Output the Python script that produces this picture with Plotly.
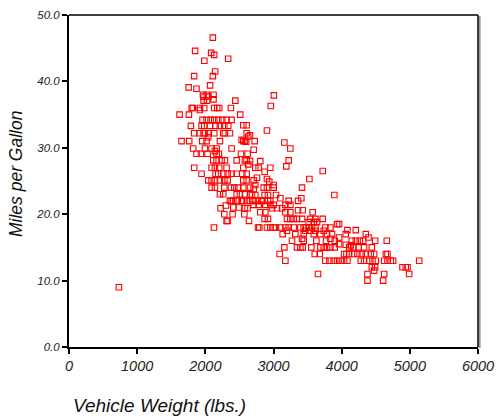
import plotly.graph_objects as go

# Miles per gallon levels and the vehicle weights (lbs.) of the cars at each level
mpg_levels = [46.6, 44.6, 44.3, 44.0, 43.4, 43.1, 41.5, 40.8, 39.4, 39.1, 38.9, 38.0, 37.9, 37.7,
              37.3, 37.1, 36.3, 36.0, 35.7, 35.0, 34.2, 33.4, 33.3, 32.6, 32.2, 31.9, 31.7,
              31.6, 31.2, 31.0, 30.9, 30.8, 29.9, 29.7, 29.5, 29.1, 28.1, 28.0, 27.5, 27.2,
              27.0, 26.5, 26.4, 26.1, 25.5, 25.3, 25.1, 24.9, 24.4, 24.0, 23.8, 23.0, 22.9,
              22.4, 22.0, 21.4, 21.3, 21.0, 20.9, 20.6, 20.3, 20.0, 19.3, 19.0, 18.8, 18.5,
              18.0, 17.6, 17.5, 17.0, 16.5, 16.3, 16.0, 15.5, 15.4, 15.3, 15.0, 14.0, 13.0,
              12.0, 11.5, 11.0, 10.0, 9.0]

weights_by_level = [
    [2110], [1850], [2085], [2130], [2335], [1985], [2144], [1836, 2110], [2070], [1755],
    [1870], [1965, 2020, 2120], [3005], [1975, 2045],
    [2120], [1975, 2025, 2440], [2960], [1800, 1817, 1920, 1983, 2130, 2174, 2204, 2375],
    [1920], [1622, 1759, 2512], [1959, 2018, 2077, 2131, 2190, 2248, 2312, 2385],
    [2557, 2606], [1788, 1945, 1984, 2067, 2150, 2214, 2278, 2336], [2904],
    [1837, 1915, 1974, 1994, 2043, 2131, 2263, 2287, 2361, 2606], [2655], [2630],
    [2043], [2533], [1651, 1763, 1955, 2018, 2214, 2557, 2581, 2724], [2600], [3159],
    [1822, 1994, 2092, 2165, 2385, 3247], [2709], [2141],
    [1871, 1935, 2033, 2165, 2199, 2523, 2620], [2116, 2165, 2238, 2287, 2459, 2581, 2606, 3223],
    [2655, 2806], [2630], [3188],
    [1837, 2092, 2141, 2204, 2312, 2557, 2733, 2782, 2953], [3722], [2870],
    [1945, 2150, 2190, 2263, 2327, 2385, 2459, 2542, 2606], [2758], [2904, 3526],
    [2043, 2092, 2141, 2214, 2278, 2327, 2557, 2606, 2709], [2938], [2733, 3003],
    [2092, 2141, 2278, 2376, 2425, 2483, 2557, 2655, 2856, 2904, 3003, 3418], [2709],
    [2214, 2263, 2459, 2508, 2581, 2655], [2684, 2733, 2870, 2919, 3037, 3893],
    [3100, 3408],
    [2361, 2386, 2410, 2459, 2533, 2557, 2606, 2655, 2709, 2772, 2821, 2831, 2919, 2953, 3223, 3360],
    [2708, 2782, 2880, 2953, 3002, 3174, 3247], [2302], [2410, 2493],
    [2224, 2581, 2620, 2978, 3051, 3125], [3360, 3428], [2806, 2880, 3174, 3247, 3575],
    [2278, 2400, 2572], [2870, 2919, 3198, 3247, 3296, 3345, 3419, 3541, 3614, 3722],
    [2312, 2327, 2640], [3516, 3590, 3639], [3933, 3962],
    [2126, 2772, 2792, 2904, 2953, 3002, 3037, 3100, 3174, 3223, 3296, 3394, 3443, 3477,
     3516, 3565, 3614, 3761, 3835],
    [4084, 4207], [3198, 3467, 3541, 3614, 3737],
    [3135, 3320, 3443, 3590, 3688, 3786, 3859, 4060, 4354], [3962, 4393], [3419, 3835],
    [3272, 3443, 3629, 3771, 3899, 4148, 4207, 4266, 4315, 4491, 4662], [3962], [4060], [4133],
    [3159, 3345, 3394, 3428, 3555, 3688, 3737, 3786, 3835, 3899, 4110, 4170, 4250, 4329, 4442],
    [3090, 3605, 3678, 4035, 4070, 4109, 4182, 4231, 4295, 4354, 4427, 4476, 4648, 4672],
    [3174, 3761, 3820, 3884, 3933, 3986, 4035, 4084, 4280, 4329, 4403, 4452, 4501, 4623,
     4672, 4721, 4755, 5137],
    [4442, 4491, 4892, 4941, 4966], [4476], [3653, 4378, 4623, 4990], [4378, 4608], [732],
]

x_ticks = [0, 1000, 2000, 3000, 4000, 5000, 6000]
y_ticks = [0, 10, 20, 30, 40, 50]

weight = []
mpg = []
for level, ws in zip(mpg_levels, weights_by_level):
    for w in ws:
        weight.append(w)
        mpg.append(level)

fig = go.Figure()
fig.add_trace(go.Scatter(
    x=weight, y=mpg, mode="markers",
    marker=dict(symbol="square-open", size=5.5, color="#ff0000", line=dict(width=1.1, color="#ff0000")),
    showlegend=False, hoverinfo="skip",
))

font_family = "Liberation Sans, Arial, sans-serif"
fig.update_layout(
    width=497, height=419,
    margin=dict(l=69, r=19, t=15, b=72, autoexpand=False),
    paper_bgcolor="white", plot_bgcolor="white",
    font=dict(family=font_family, color="#222222"),
    xaxis=dict(range=[0, 6000], tickvals=x_ticks, ticktext=[str(v) for v in x_ticks],
               automargin=False,
               showgrid=False, zeroline=False, showline=True, linewidth=2, linecolor="black",
               ticks="outside", ticklen=5, tickwidth=1.5, tickcolor="black",
               tickfont=dict(size=14.5, style="italic", family=font_family, color="#222222")),
    yaxis=dict(range=[0, 50], tickvals=y_ticks, tickformat=".1f",
               automargin=False,
               showgrid=False, zeroline=False, showline=True, linewidth=2, linecolor="black",
               ticks="outside", ticklen=5, tickwidth=1.5, tickcolor="black",
               tickfont=dict(size=11.5, style="italic", family=font_family, color="#222222")),
    shapes=[
        dict(type="line", xref="paper", yref="paper", x0=0, x1=1, y0=1, y1=1,
             line=dict(color="black", width=1.5)),
        dict(type="line", xref="paper", yref="paper", x0=1.004, x1=1.004, y0=-0.003, y1=0.997,
             line=dict(color="#999999", width=2)),
        dict(type="line", xref="paper", yref="paper", x0=1, x1=1, y0=0, y1=1,
             line=dict(color="black", width=1.5)),
    ],
    annotations=[
        dict(text="Miles per Gallon", xref="paper", yref="paper", x=-0.128, y=0.52,
             textangle=-90, showarrow=False, xanchor="center", yanchor="middle",
             font=dict(size=17.5, style="italic", family=font_family, color="#111111")),
        dict(text="Vehicle Weight (lbs.)", xref="paper", yref="paper", x=0.222, y=-0.175,
             showarrow=False, xanchor="center", yanchor="middle",
             font=dict(size=19, style="italic", family=font_family, color="#111111")),
    ],
)

fig.write_html("out.html", config={"displayModeBar": False},
               post_script="document.body.style.margin='0';document.body.style.overflow='hidden';")
